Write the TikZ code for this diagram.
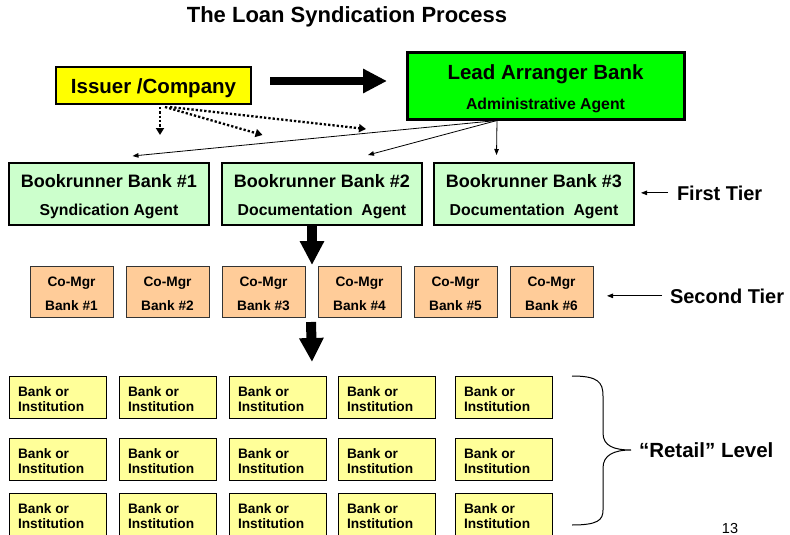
\documentclass[tikz,border=0pt]{standalone}
\usepackage{fontspec}
\setmainfont{Liberation Sans}
\usetikzlibrary{arrows.meta,calc}
\definecolor{issuerY}{HTML}{FFFF00}
\definecolor{leadG}{HTML}{00FF00}
\definecolor{bookG}{HTML}{CCFFCC}
\definecolor{mgrO}{HTML}{FFCC99}
\definecolor{bankY}{HTML}{FFFF99}
\begin{document}
\begin{tikzpicture}[x=1pt,y=-1pt,
  box/.style={draw=black, anchor=north west, inner sep=0pt, outer sep=0pt},
  lbl/.style={anchor=base, inner sep=0pt, outer sep=0pt},
  bigarrow/.style={line width=#1, -{Triangle[length=24pt,width=23pt]}},
  dotarrow/.style={line width=2.3pt, dash pattern=on 2.3pt off 2pt, -{Triangle[length=7pt,width=8pt]}},
  thinarrow/.style={line width=0.8pt, -{Triangle[length=6pt,width=4.5pt]}},
  issuerbox/.style={box, fill=issuerY, line width=2.5pt, minimum width=195pt, minimum height=37pt},
  leadbox/.style={box, fill=leadG, line width=3pt, minimum width=277pt, minimum height=66pt},
  bookbox/.style={box, fill=bookG, line width=1.8pt, minimum width=200pt, minimum height=62pt},
  mgrbox/.style={box, draw=black!80, fill=mgrO, line width=1pt, minimum width=83pt, minimum height=51pt},
  bankbox/.style={box, fill=bankY, line width=1pt, minimum width=97pt, minimum height=42pt},
  fbig/.style={font=\bfseries\fontsize{20.5}{24}\selectfont},
  fbook/.style={font=\bfseries\fontsize{18}{22}\selectfont},
  fsub/.style={font=\bfseries\fontsize{15.8}{19}\selectfont},
  fsmall/.style={font=\bfseries\fontsize{13.7}{16}\selectfont}]
\useasboundingbox (0,0) rectangle (790,535);

% title
\node[lbl, font=\bfseries\fontsize{22}{26}\selectfont] (title) at (347,23) {The Loan Syndication Process};

% issuer and lead arranger
\node[issuerbox] (issuer) at (56,67) {};
\node[lbl, fbig] (issuerT) at ($(issuer.north)+(0,26)$) {Issuer /Company};
\node[leadbox] (lead) at (407,53) {};
\node[lbl, fbig] (leadT1) at ($(lead.north)+(0,27)$) {Lead Arranger Bank};
\node[lbl, fsub] (leadT2) at ($(lead.north)+(0,57)$) {Administrative Agent};

% bookrunners
\node[bookbox] (br1) at (9,163) {};
\node[bookbox] (br2) at (222,163) {};
\node[bookbox] (br3) at (434,163) {};
\node[lbl, fbook] at ($(br1.north)+(0,24)$) {Bookrunner Bank \#1};
\node[lbl, fsub] at ($(br1.north)+(0,52)$) {Syndication Agent};
\node[lbl, fbook] at ($(br2.north)+(0,24)$) {Bookrunner Bank \#2};
\node[lbl, fsub] at ($(br2.north)+(0,52)$) {Documentation\ \ Agent};
\node[lbl, fbook] at ($(br3.north)+(0,24)$) {Bookrunner Bank \#3};
\node[lbl, fsub] at ($(br3.north)+(0,52)$) {Documentation\ \ Agent};

% co-managers
\foreach \i in {1,...,6}{
  \node[mgrbox] (m\i) at ({30+96*(\i-1)},266) {};
  \node[lbl, fsmall] at ($(m\i.north)+(0,20)$) {Co-Mgr};
  \node[lbl, fsmall] at ($(m\i.north)+(0,44)$) {Bank \#\i};
}

% banks / institutions
\foreach \c/\x in {1/9,2/119,3/229,4/338,5/455}{
  \foreach \r/\y in {1/376,2/438,3/493}{
    \node[bankbox] (b\r\c) at (\x,\y) {};
    \node[lbl, fsmall, anchor=base west] at ($(b\r\c.north west)+(9,20)$) {Bank or};
    \node[lbl, fsmall, anchor=base west] at ($(b\r\c.north west)+(9,35)$) {Institution};
  }
}

% big arrows
\draw[bigarrow=8pt] ($(issuer.east)+(19,-4.5)$) -- ($(lead.west)+(-20,-5)$);
\draw[bigarrow=10pt] ($(br2.south)+(-10,0)$) -- ($(m3.north east)+(7,-1)$);
\draw[bigarrow=10pt] ($(m3.south east)+(6,5)$) -- ($(b13.north east)+(-14,-14)$);

% dotted arrows from issuer
\draw[dotarrow] ($(issuer.south)+(6.5,3)$) -- ($(issuer.south)+(6.5,31)$);
\draw[dotarrow] ($(issuer.south)+(11.5,3)$) -- ($(br1.north)+(153.5,-28)$);
\draw[dotarrow] ($(issuer.south)+(16.5,3)$) -- ($(lead.south west)+(-41,10)$);

% thin arrows from lead arranger
\coordinate (lo) at ($(lead.south)+(-48.5,1.5)$);
\draw[thinarrow] (lo) -- ($(br1.north)+(23.5,-7)$);
\draw[thinarrow] (lo) -- ($(br2.north)+(46,-8)$);
\draw[thinarrow] (lo) -- ($(br3.north)+(-37.5,-8)$);

% tier labels
\node[lbl, anchor=base west, font=\bfseries\fontsize{20}{24}\selectfont] (ft) at (677,200) {First Tier};
\coordinate (br3e) at ($(br3.east)+(7,0)$);
\draw[thinarrow] ($(ft.west)+(-9,0)$) -- (br3e |- ft.west);
\node[lbl, anchor=base west, font=\bfseries\fontsize{20}{24}\selectfont] (st) at (670,303) {Second Tier};
\coordinate (m6e) at ($(m6.east)+(14,0)$);
\draw[thinarrow] ($(st.west)+(-8,0)$) -- (m6e |- st.west);

% brace and retail label
\draw[line width=1pt] (572,376) .. controls (598,376) and (603,382) .. (603,396)
  -- (603,433) .. controls (603,446) and (614,450) .. (631,450)
  .. controls (614,450) and (603,455) .. (603,468)
  -- (603,510) .. controls (603,520) and (598,525) .. (572,525);
\node[lbl, anchor=base west, font=\bfseries\fontsize{20.5}{24}\selectfont] (rl) at (639,457) {“Retail” Level};

% page number
\node[lbl, font=\fontsize{14.5}{17}\selectfont] (pg) at (730,533) {13};
\end{tikzpicture}
\end{document}
